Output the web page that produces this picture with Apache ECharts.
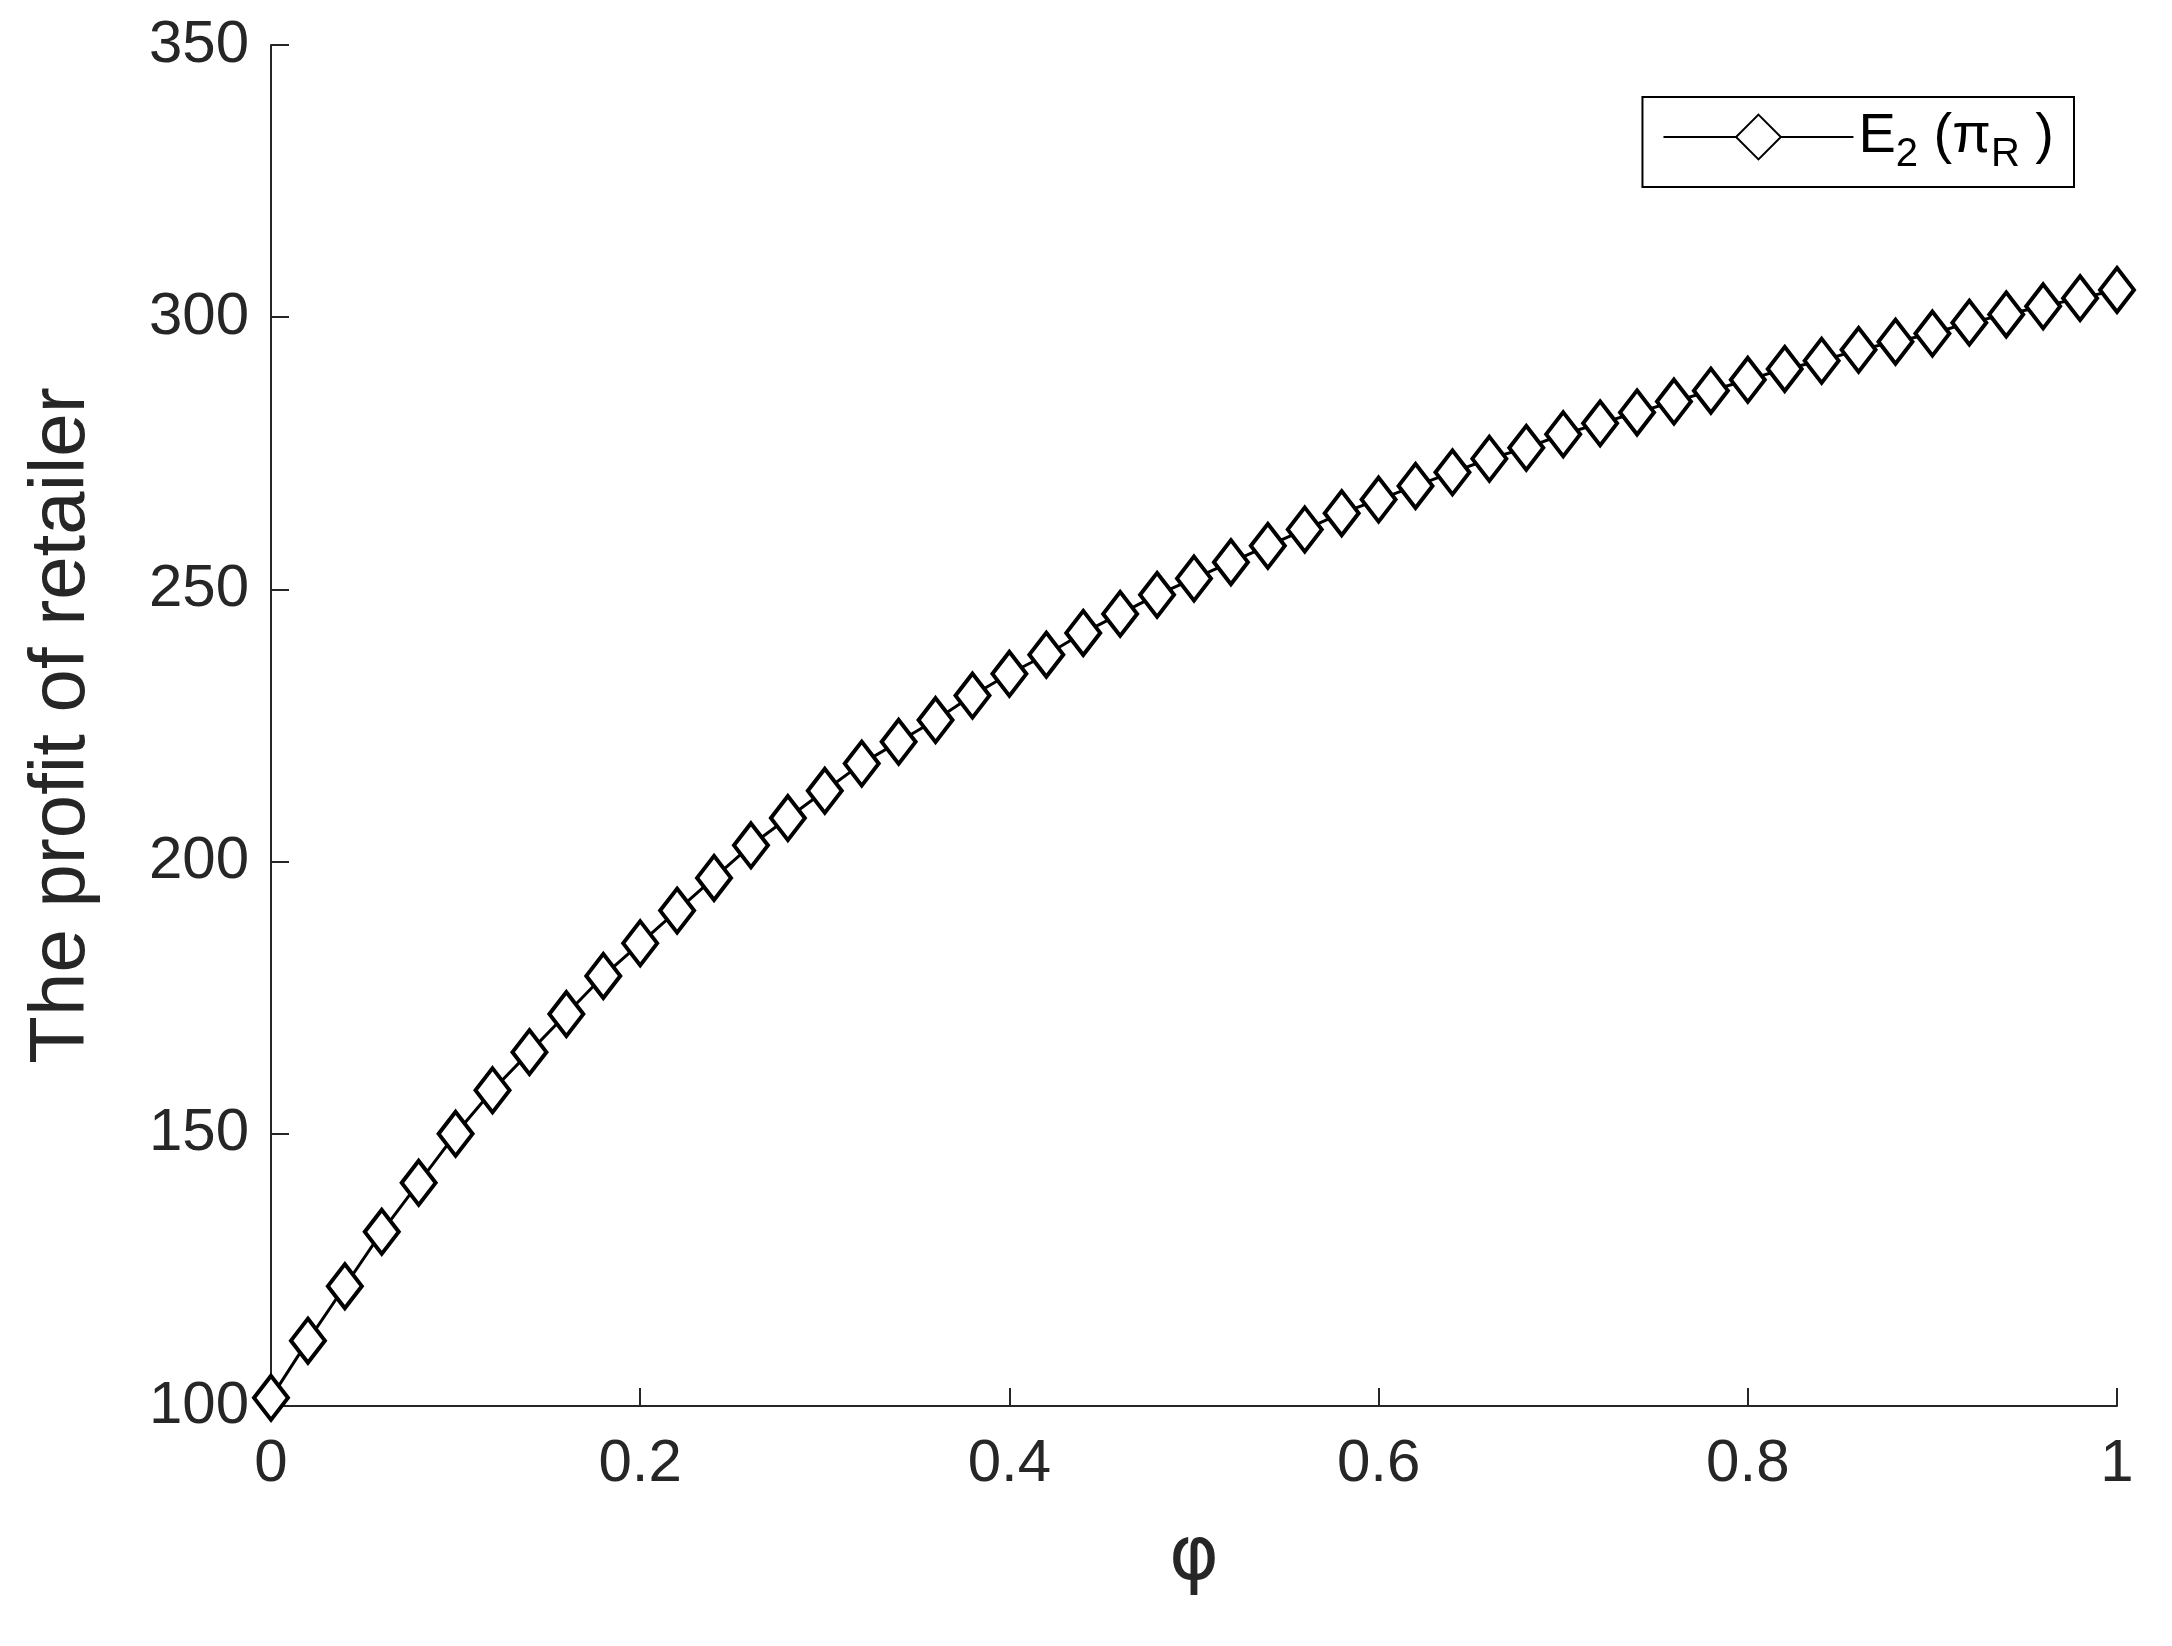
<!DOCTYPE html>
<html><head><meta charset="utf-8">
<script src="https://cdn.jsdelivr.net/npm/echarts@6/dist/echarts.min.js"></script>
<style>html,body{margin:0;padding:0;background:#fff}#main{width:2172px;height:1646px}</style>
</head><body><div id="main"></div>
<script>
var phi = [0,0.02,0.04,0.06,0.08,0.1,0.12,0.14,0.16,0.18,0.2,0.22,0.24,0.26,0.28,0.3,0.32,0.34,0.36,0.38,0.4,0.42,0.44,0.46,0.48,0.5,0.52,0.54,0.56,0.58,0.6,0.62,0.64,0.66,0.68,0.7,0.72,0.74,0.76,0.78,0.8,0.82,0.84,0.86,0.88,0.9,0.92,0.94,0.96,0.98,1];
var profitR = [101.5,112,122,132,141,150,158,165,172,179,185,191,197,203,208,213,218,222,226,230.5,234.5,238,242,245.5,249,252,255,258,261,264,266.5,269,271.5,274,276,278.5,280.5,282.5,284.5,286.5,288.5,290.5,292,294,295.5,297,299,300.5,302,303.5,305];

var pts = phi.map(function (x, i) { return [x, profitR[i]]; });
var myChart = echarts.init(document.getElementById('main'));
var axisTxt = { color: '#262626', fontSize: 60, fontFamily: 'Liberation Sans, Arial' };
var option = {
    animation: false,
    grid: { left: 271, right: 55, top: 45, bottom: 240 },
    legend: {
        right: 98, top: 97,
        itemWidth: 190, itemHeight: 56, itemGap: 20,
        padding: [12, 20, 12, 20],
        borderColor: '#000', borderWidth: 2,
        backgroundColor: '#fff',
        formatter: function () { return 'E{s|2} (π{s|R} )'; },
        textStyle: {
            color: '#000', fontSize: 56, fontFamily: 'Liberation Sans, Arial',
            rich: { s: { fontSize: 40, verticalAlign: 'bottom', padding: [36, 0, 0, 0], color: '#000' } }
        }
    },
    xAxis: {
        type: 'value', min: 0, max: 1, interval: 0.2,
        name: 'φ', nameLocation: 'middle', nameGap: 115,
        nameTextStyle: { fontSize: 76, color: '#262626', fontFamily: 'DejaVu Sans' },
        axisLine: { lineStyle: { color: '#262626', width: 2 } },
        axisTick: { inside: true, length: 18, lineStyle: { color: '#262626', width: 2 } },
        axisLabel: Object.assign({ margin: 28 }, axisTxt),
        splitLine: { show: false }
    },
    yAxis: {
        type: 'value', min: 100, max: 350, interval: 50,
        name: 'The profit of retailer', nameLocation: 'middle', nameGap: 170,
        nameTextStyle: { fontSize: 78, color: '#262626', fontFamily: 'Liberation Sans, Arial' },
        axisLine: { show: true, lineStyle: { color: '#262626', width: 2 } },
        axisTick: { show: true, inside: true, length: 18, lineStyle: { color: '#262626', width: 2 } },
        axisLabel: Object.assign({ margin: 22 }, axisTxt),
        splitLine: { show: false }
    },
    series: [{
        name: 'E2', type: 'line', data: pts,
        symbol: 'diamond', symbolSize: [34, 44],
        lineStyle: { color: '#000', width: 3 },
        itemStyle: { color: '#fff', borderColor: '#000', borderWidth: 4 }
    }]
};
myChart.setOption(option);
</script></body></html>
